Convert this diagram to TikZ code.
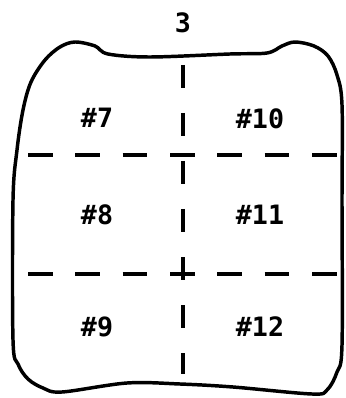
\documentclass[tikz,border=0pt]{standalone}
\usepackage{fontspec}
\newfontfamily\platefont{DejaVu Sans Mono}
\usetikzlibrary{positioning}

\begin{document}
\begin{tikzpicture}[x=0.75pt,y=-0.75pt,
 wall/.style={line width=2.6pt,line join=round},
 cut/.style={line width=2.6pt,dash pattern=on 18.5pt off 17pt},
 lab/.style={font=\platefont\bfseries\fontsize{20}{22}\selectfont,inner sep=0pt}]
\useasboundingbox (0,0) rectangle (345,398);
% outline of the cut block
\draw[wall] plot[smooth cycle,tension=0.55] coordinates {
 (75,42) (95,46) (108,54) (150,57) (230,54) (267,53) (282,46) (295,42) (314,46)
 (328,56) (337,75) (342,105) (342,200) (342,345) (337,372) (327,390) (312,394)
 (233,387) (180,384) (127,383) (62,392) (43,388) (28,379) (18,364) (13,340)
 (13,200) (17,150) (23,110) (31,82) (45,60) (60,47)};
% dashed cut lines
\coordinate (t1) at (28,155);\coordinate (t2) at (338,155);
\coordinate (b1) at (28,274);\coordinate (b2) at (338,274);
\coordinate (m1) at (183,65);\coordinate (m2) at (183,374);
\draw[cut] (t1)--(t2);
\draw[cut] (b1)--(b2);
\draw[cut,dash pattern=on 17.5pt off 18.5pt] (m1)--(m2);
% labels
\node[lab] (top) at (183,23) {3};
\node[lab] (p7) at (97,118) {\#7};
\node[lab] (p10) at (260,119) {\#10};
\node[lab] (p8) at (97,215) {\#8};
\node[lab] (p11) at (260,215) {\#11};
\node[lab] (p9) at (97,327) {\#9};
\node[lab] (p12) at (260,327) {\#12};
\end{tikzpicture}
\end{document}
